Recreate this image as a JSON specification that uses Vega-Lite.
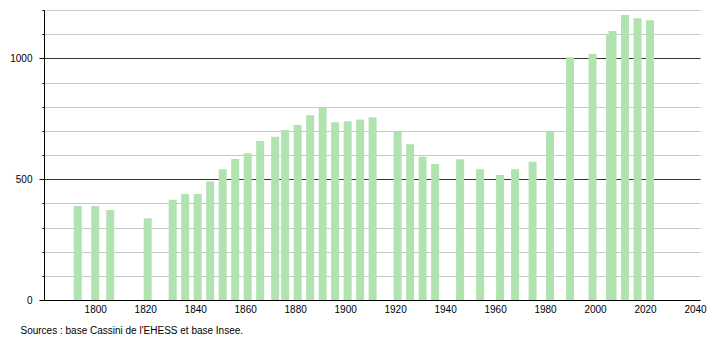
{
  "$schema": "https://vega.github.io/schema/vega-lite/v6.json",
  "autosize": "none",
  "width": 656,
  "height": 290,
  "padding": {"left": 44, "top": 10, "right": 10, "bottom": 40},
  "background": "white",
  "config": {
    "view": {"stroke": null},
    "font": "Liberation Sans"
  },
  "data": {
    "values": [
      {"annee": 1793, "population": 389},
      {"annee": 1800, "population": 389},
      {"annee": 1806, "population": 372},
      {"annee": 1821, "population": 338},
      {"annee": 1831, "population": 415},
      {"annee": 1836, "population": 439},
      {"annee": 1841, "population": 439},
      {"annee": 1846, "population": 490},
      {"annee": 1851, "population": 541},
      {"annee": 1856, "population": 583},
      {"annee": 1861, "population": 607},
      {"annee": 1866, "population": 658},
      {"annee": 1872, "population": 676},
      {"annee": 1876, "population": 703},
      {"annee": 1881, "population": 724},
      {"annee": 1886, "population": 764},
      {"annee": 1891, "population": 794},
      {"annee": 1896, "population": 736},
      {"annee": 1901, "population": 740},
      {"annee": 1906, "population": 747},
      {"annee": 1911, "population": 756},
      {"annee": 1921, "population": 696},
      {"annee": 1926, "population": 645},
      {"annee": 1931, "population": 593},
      {"annee": 1936, "population": 563},
      {"annee": 1946, "population": 582},
      {"annee": 1954, "population": 541},
      {"annee": 1962, "population": 517},
      {"annee": 1968, "population": 541},
      {"annee": 1975, "population": 572},
      {"annee": 1982, "population": 696},
      {"annee": 1990, "population": 1004},
      {"annee": 1999, "population": 1018},
      {"annee": 2006, "population": 1096},
      {"annee": 2007, "population": 1113},
      {"annee": 2012, "population": 1179},
      {"annee": 2017, "population": 1166},
      {"annee": 2022, "population": 1158}
    ]
  },
  "mark": {"type": "bar", "width": 8, "color": "#b1e3b1"},
  "encoding": {
    "x": {
      "field": "annee",
      "type": "quantitative",
      "scale": {"domain": [1779.5, 2042], "nice": false, "zero": false, "padding": 0},
      "axis": {
        "values": [1800, 1820, 1840, 1860, 1880, 1900, 1920, 1940, 1960, 1980, 2000, 2020, 2040],
        "format": "d",
        "grid": false,
        "ticks": false,
        "domainColor": "#000",
        "domainWidth": 1,
        "labelFontSize": 10,
        "labelColor": "#000",
        "labelPadding": 4,
        "labelFlush": false,
        "title": "Sources : base Cassini de l'EHESS et base Insee.",
        "titleFontSize": 10,
        "titleFontWeight": "normal",
        "titleColor": "#000",
        "titleAnchor": "start",
        "titleAlign": "left",
        "titleBaseline": "middle",
        "titleX": -24,
        "titleY": 30
      }
    },
    "y": {
      "field": "population",
      "type": "quantitative",
      "scale": {"domain": [0, 1200], "nice": false, "padding": 0},
      "axis": {
        "values": [0, 100, 200, 300, 400, 500, 600, 700, 800, 900, 1000, 1100, 1200],
        "labelExpr": "datum.value % 500 === 0 ? datum.label : ''",
        "format": "d",
        "title": null,
        "domainColor": "#000",
        "domainWidth": 1,
        "tickColor": "#000",
        "tickSize": {"condition": {"test": "datum.value % 500 === 0", "value": 5}, "value": 2},
        "labelFontSize": 10,
        "labelColor": "#000",
        "labelPadding": {"condition": {"test": "datum.value % 500 === 0", "value": 7}, "value": 10},
        "grid": true,
        "gridColor": {"condition": {"test": "datum.value % 500 === 0 && datum.value > 0", "value": "#333333"}, "value": "#c8c8c8"},
        "gridWidth": 1
      }
    }
  }
}
